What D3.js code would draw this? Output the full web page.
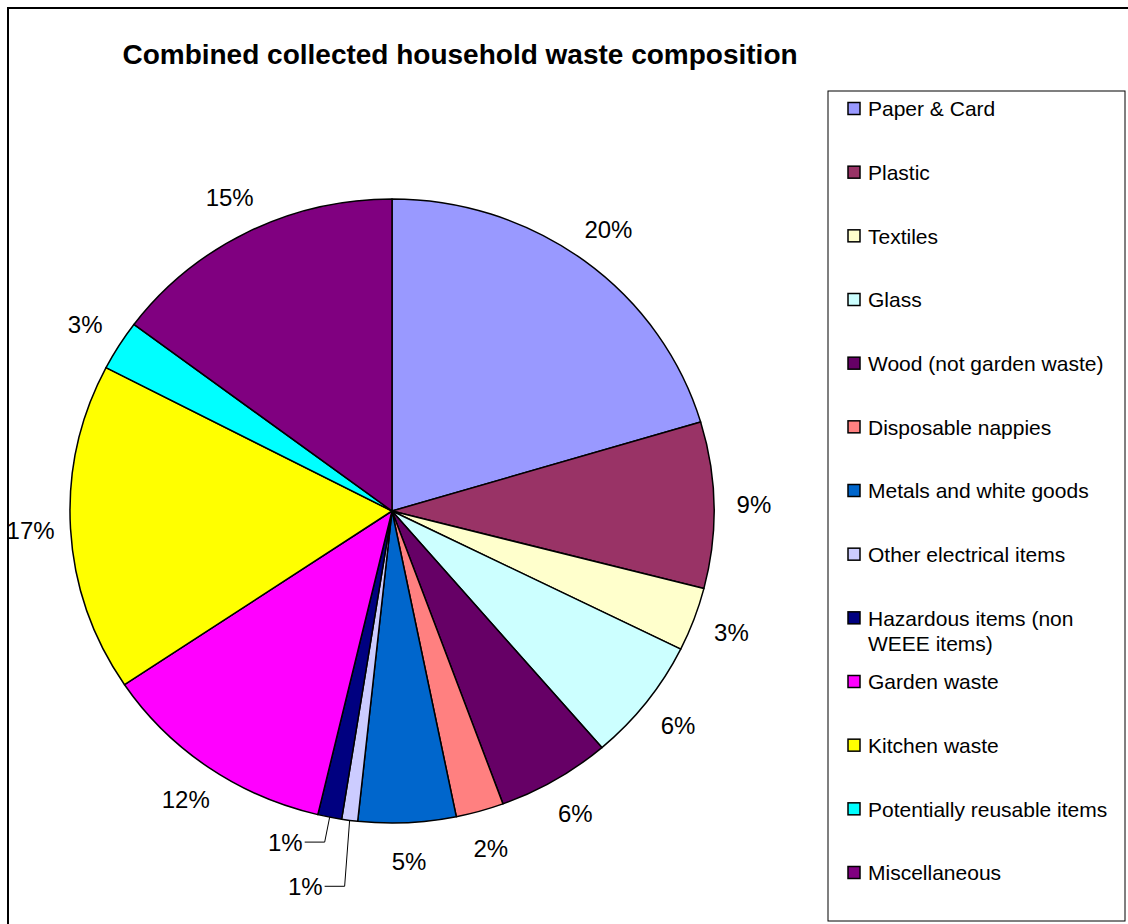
<!DOCTYPE html>
<html>
<head>
<meta charset="utf-8">
<script src="https://cdn.jsdelivr.net/npm/d3@7"></script>
<style>
  html, body { margin: 0; padding: 0; background: #fff; }
  svg { display: block; font-family: "Liberation Sans", Arial, sans-serif; }
</style>
</head>
<body>
<svg id="chart" width="1128" height="924"></svg>
<script>
const title = "Combined collected household waste composition";
const categories = [
  "Paper & Card", "Plastic", "Textiles", "Glass", "Wood (not garden waste)",
  "Disposable nappies", "Metals and white goods", "Other electrical items",
  "Hazardous items (non WEEE items)", "Garden waste", "Kitchen waste",
  "Potentially reusable items", "Miscellaneous"
];
const values = [20.4, 8.6, 3.3, 6.4, 5.7, 2.4, 4.9, 0.8, 1.2, 11.9, 17.0, 2.6, 14.8];
const colors = [
  "#9999FF", "#993366", "#FFFFCC", "#CCFFFF", "#660066",
  "#FF8080", "#0066CC", "#CCCCFF", "#000080", "#FF00FF",
  "#FFFF00", "#00FFFF", "#800080"
];
const legendLines = [
  ["Paper & Card"], ["Plastic"], ["Textiles"], ["Glass"], ["Wood (not garden waste)"],
  ["Disposable nappies"], ["Metals and white goods"], ["Other electrical items"],
  ["Hazardous items (non", "WEEE items)"], ["Garden waste"], ["Kitchen waste"],
  ["Potentially reusable items"], ["Miscellaneous"]
];

const svg = d3.select("#chart");
const W = 1128, H = 924;

// outer frame
svg.append("rect").attr("x", 8).attr("y", 8).attr("width", W + 10).attr("height", H + 10)
  .attr("fill", "#fff").attr("stroke", "#000").attr("stroke-width", 2);

// title
svg.append("text").attr("x", 460).attr("y", 64).attr("text-anchor", "middle")
  .attr("font-size", 28).attr("font-weight", "bold").attr("fill", "#000").text(title);

// pie
const cx = 392, cy = 511, rx = 322, ry = 312, ky = ry / rx;
const total = d3.sum(values);
const pie = d3.pie().sort(null).value(d => d)(values);
const arc = d3.arc().innerRadius(0).outerRadius(rx);
const g = svg.append("g").attr("transform", `translate(${cx},${cy}) scale(1,${ky})`);
g.selectAll("path").data(pie).join("path")
  .attr("d", arc)
  .attr("fill", (d, i) => colors[i])
  .attr("stroke", "#000").attr("stroke-width", 1.5)
  .attr("vector-effect", "non-scaling-stroke")
  .attr("stroke-linejoin", "round");

const fmt = d3.format(".0%");
const pt = (a, r) => [cx + r * Math.sin(a), cy - r * Math.cos(a) * ky];
const labelR = 362;
// leader-line labels for tiny slices: [drop below arc, horizontal run]
const leaders = { 7: [66, 20], 8: [25, 20] };

const lab = svg.append("g").attr("font-size", 24).attr("fill", "#000");
pie.forEach((d, i) => {
  const a = (d.startAngle + d.endAngle) / 2;
  const txt = fmt(d.value / total);
  if (leaders[i]) {
    const [drop, run] = leaders[i];
    const p0 = pt(a, rx);
    const p1 = [p0[0] - 5, p0[1] + drop];
    const p2 = [p1[0] - run, p1[1]];
    svg.append("polyline")
      .attr("points", [p0, p1, p2].map(p => p.join(",")).join(" "))
      .attr("fill", "none").attr("stroke", "#000").attr("stroke-width", 1);
    lab.append("text").attr("x", p2[0] - 2).attr("y", p2[1]).attr("dy", "0.35em")
      .attr("text-anchor", "end").text(txt);
  } else {
    const p = pt(a, labelR);
    lab.append("text").attr("x", p[0]).attr("y", p[1]).attr("dy", "0.35em")
      .attr("text-anchor", "middle").text(txt);
  }
});

// legend
const lg = svg.append("g");
lg.append("rect").attr("x", 828).attr("y", 91).attr("width", 297).attr("height", 830)
  .attr("fill", "#fff").attr("stroke", "#000").attr("stroke-width", 1);
const ly = d3.scaleLinear().domain([0, categories.length - 1]).range([109, 873]);
categories.forEach((c, i) => {
  const y = ly(i);
  lg.append("rect").attr("x", 848).attr("y", y - 6.5).attr("width", 12).attr("height", 12)
    .attr("fill", colors[i]).attr("stroke", "#000").attr("stroke-width", 1.5);
  const t = lg.append("text").attr("x", 868).attr("y", y)
    .attr("font-size", 21).attr("fill", "#000");
  legendLines[i].forEach((line, j) => {
    t.append("tspan").attr("x", 868).attr("dy", j === 0 ? "0.35em" : 25).text(line);
  });
});
</script>
</body>
</html>
